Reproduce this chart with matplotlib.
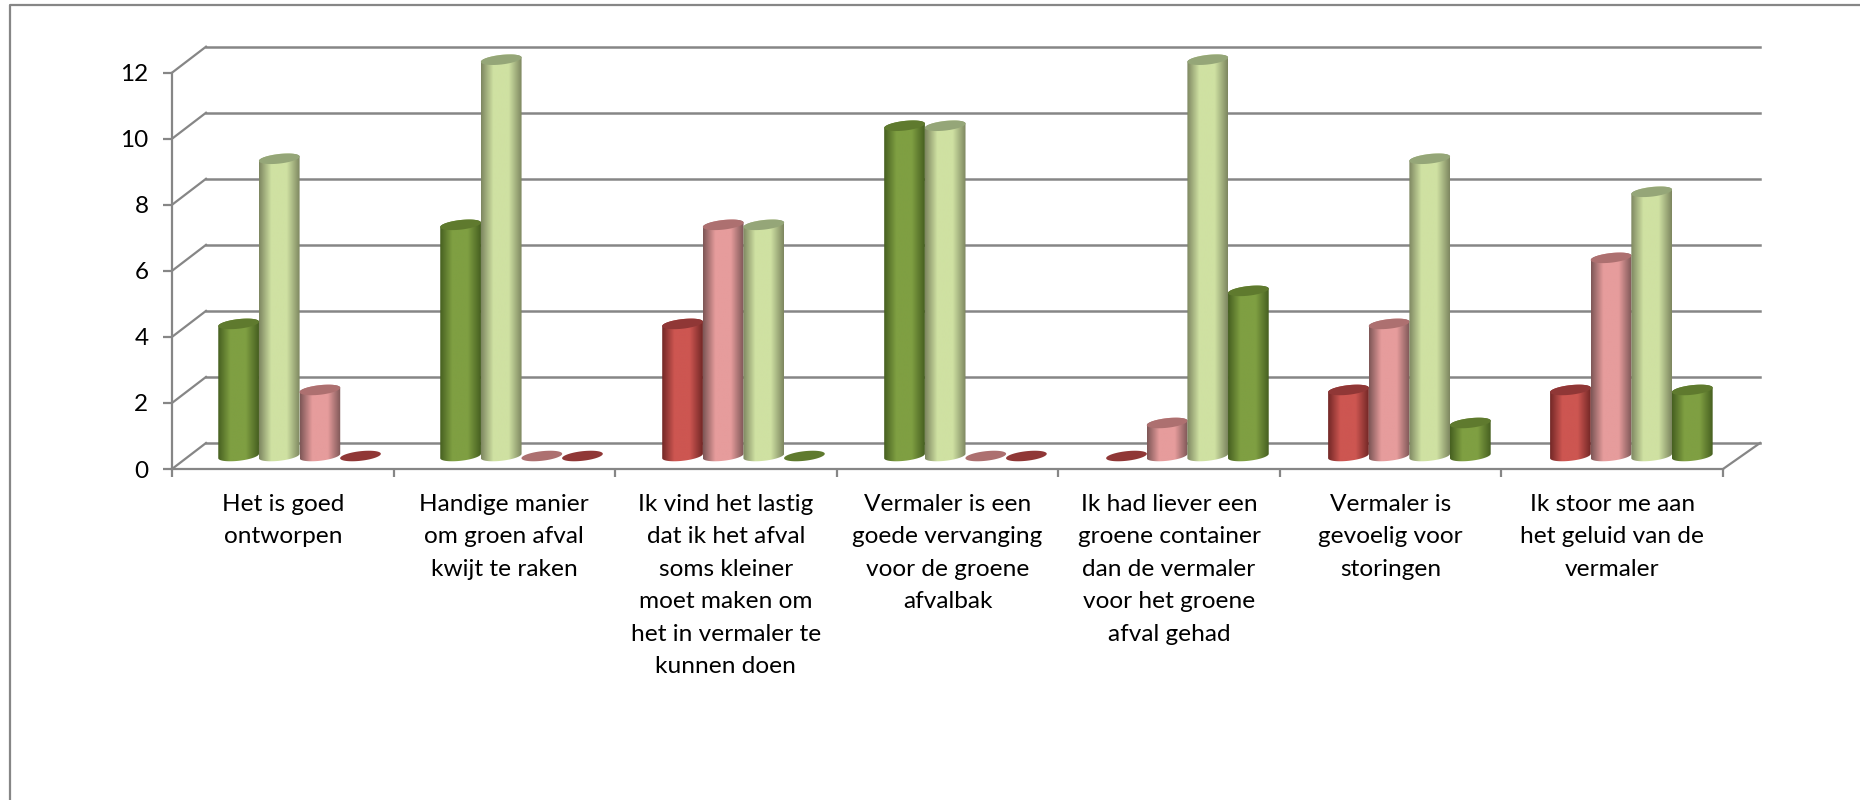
import numpy as np
import matplotlib
matplotlib.use("Agg")
import matplotlib.pyplot as plt
from matplotlib.colors import LinearSegmentedColormap
from matplotlib.lines import Line2D
from matplotlib.patches import PathPatch, Polygon
from matplotlib.path import Path

plt.rcParams['font.family'] = ['Lato', 'DejaVu Sans']

categories = [
    "Het is goed\nontworpen",
    "Handige manier\nom groen afval\nkwijt te raken",
    "Ik vind het lastig\ndat ik het afval\nsoms kleiner\nmoet maken om\nhet in vermaler te\nkunnen doen",
    "Vermaler is een\ngoede vervanging\nvoor de groene\nafvalbak",
    "Ik had liever een\ngroene container\ndan de vermaler\nvoor het groene\nafval gehad",
    "Vermaler is\ngevoelig voor\nstoringen",
    "Ik stoor me aan\nhet geluid van de\nvermaler",
]
y_ticks = [0, 2, 4, 6, 8, 10, 12]

# answer counts per statement, in the order the cylinders stand
first = [4, 7, 4, 10, 0, 2, 2]
second = [9, 12, 7, 10, 1, 4, 6]
third = [2, 0, 7, 0, 12, 9, 8]
fourth = [0, 0, 0, 0, 5, 1, 2]
series = [first, second, third, fourth]

# colour of each cylinder, positive statements run green to red
green_first = ["dark", "light", "pink", "red"]
red_first = ["red", "pink", "light", "dark"]
order = [green_first, green_first, red_first, green_first, red_first, red_first, red_first]

# edge, centre, top
palette = {
    "dark": ("#465f20", "#7f9f42", "#5f7a2e"),
    "light": ("#7d8660", "#cfe1a2", "#95a678"),
    "pink": ("#7d5656", "#e69c9c", "#ad7070"),
    "red": ("#722726", "#cd5651", "#903736"),
}

GRID = "#868686"
W, H = 1860, 800
LEFT, RIGHT, BASE, TOP = 172, 1723, 469, 72.7
PX_X = (RIGHT - LEFT) / 7
PX_Y = (BASE - TOP) / 12

fig = plt.figure(figsize=(W / 100, H / 100), dpi=100, facecolor="white")
ax = fig.add_axes([LEFT / W, 1 - BASE / H, (RIGHT - LEFT) / W, (BASE - TOP) / H])

# oblique wall offset, in data units
dx = 34 / PX_X
dy = 26 / PX_Y

# chart frame, open on the right and at the bottom
fig.add_artist(Line2D([10 / W, 10 / W, 1], [0, 1 - 5 / H, 1 - 5 / H], color=GRID, lw=1.6))

for v in y_ticks:
    ax.plot([dx, 7 + dx * 1.09], [v + dy, v + dy], color=GRID, lw=1.8, clip_on=False, zorder=1)
    ax.plot([0, dx], [v, v + dy], color=GRID, lw=1.6, clip_on=False, zorder=1)
ax.plot([7, 7 + dx * 1.09], [0, dy], color=GRID, lw=1.6, clip_on=False, zorder=1)


def ellipse(xc, yc, a, b, s, t):
    return xc + a * np.cos(t), yc + b * np.sin(t) + s * np.cos(t)


def cylinder(xc, value, kind):
    a = 20.35 / PX_X
    b = 4.8 / PX_Y
    s = 2.2 / PX_Y
    y0 = 13 / PX_Y
    edge, centre, top = palette[kind]
    if value > 0:
        lower = np.linspace(np.pi, 2 * np.pi, 60)
        upper = np.linspace(0, np.pi, 60)
        bx, by = ellipse(xc, y0, a, b, s, lower)
        tx, ty = ellipse(xc, y0 + value, a, b, s, upper)
        verts = np.column_stack([np.r_[bx, tx], np.r_[by, ty]])
        clip = PathPatch(Path(np.vstack([verts, verts[0]]), closed=True), transform=ax.transData,
                         fc="none", ec="none")
        ax.add_patch(clip)
        cmap = LinearSegmentedColormap.from_list(
            kind, [(0, edge), (0.3, centre), (0.68, centre), (1, edge)])
        im = ax.imshow(np.linspace(0, 1, 128)[None, :], cmap=cmap, aspect="auto", zorder=3,
                       extent=[xc - a, xc + a, y0 - 1, y0 + value + 1], interpolation="bilinear")
        # the tallest cylinders rise above the axes box
        im.set_clip_box(fig.bbox)
        im.set_clip_path(clip)
    t = np.linspace(0, 2 * np.pi, 90)
    ex, ey = ellipse(xc, y0 + value, a, b, s, t)
    ax.add_patch(Polygon(np.column_stack([ex, ey]), closed=True, fc=top, ec="none", zorder=3,
                         clip_on=False))


for i in range(len(categories)):
    for j, values in enumerate(series):
        xc = i + (46.4 + 20.35 + j * 40.7) / 222 + i * 0.4 / 222
        cylinder(xc, values[i], order[i][j])

ax.set_xlim(0, 7)
ax.set_ylim(0, 12)
ax.patch.set_visible(False)
for side in ("top", "right"):
    ax.spines[side].set_visible(False)
for side in ("left", "bottom"):
    ax.spines[side].set_color(GRID)
    ax.spines[side].set_linewidth(1.6)
    ax.spines[side].set_zorder(2)

ax.set_yticks(y_ticks)
ax.tick_params(axis="y", length=6.5, width=1.6, color=GRID, labelsize=17.5, pad=10.5)
ax.set_xticks(range(8))
ax.set_xticklabels([])
ax.tick_params(axis="x", which="major", length=5.5, width=1.6, color=GRID)
ax.set_xticks(np.arange(7) + 0.5, minor=True)
ax.set_xticklabels(categories, minor=True, fontsize=17.6, linespacing=1.67, va="top")
ax.tick_params(axis="x", which="minor", length=0, pad=18)

fig.savefig("out.png", dpi=100)
